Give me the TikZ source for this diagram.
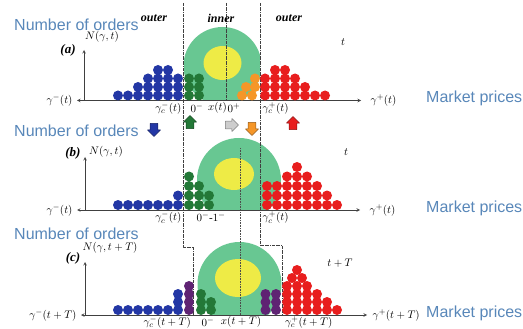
\documentclass[tikz,border=0pt]{standalone}
\usepackage{fontspec}
\setmainfont{Liberation Serif}
\newfontfamily\annofont{Liberation Sans}
\usetikzlibrary{shapes.arrows}
\definecolor{cblue}{RGB}{35,55,165}
\definecolor{cgreen}{RGB}{35,120,55}
\definecolor{cred}{RGB}{232,30,30}
\definecolor{corange}{RGB}{245,150,40}
\definecolor{cpurple}{RGB}{95,35,115}
\definecolor{cteal}{RGB}{104,199,146}
\definecolor{cyellow}{RGB}{238,235,70}
\definecolor{cgrey}{RGB}{205,205,205}
\definecolor{annoblue}{RGB}{88,135,185}
\begin{document}
\begin{tikzpicture}[x=1pt, y=-1pt, font=\fontsize{11}{13}\selectfont, line join=round, >=stealth,
    anno/.style={font=\annofont\fontsize{16}{18}\selectfont, text=annoblue, inner sep=0pt},
    band/.style={font=\bfseries\itshape\fontsize{12}{14}\selectfont},
    panel/.style={font=\bfseries\itshape\fontsize{13}{15}\selectfont},
    bound/.style={densely dash dot, line width=0.5pt, black!75},
    mid/.style={densely dotted, line width=0.6pt, black!70},
    axis/.style={line width=0.6pt, black!75},
    blockarr/.style={single arrow, draw=#1!60!black, fill=#1, minimum height=13pt, minimum width=13pt,
      single arrow head extend=2.5pt, inner sep=3.5pt, line width=0.5pt}]
  \useasboundingbox (0,0) rectangle (523,329);

  % order clouds
  \begin{scope}
    \clip (184,0) rectangle (260,100.5);
    \fill[cteal] (222.5,66) circle (39pt);
  \end{scope}
  \begin{scope}
    \clip (0,110) rectangle (523,210);
    \fill[cteal] (239,180) circle (42pt);
  \end{scope}
  \begin{scope}
    \clip (0,220) rectangle (523,315);
    \fill[cteal] (239.5,284) circle (42pt);
  \end{scope}
  \fill[cyellow] (222.5,63) ellipse [x radius=19pt, y radius=17pt];
  \fill[cyellow] (234,174) ellipse [x radius=20pt, y radius=16pt];
  \fill[cyellow] (238,278) ellipse [x radius=23pt, y radius=19pt];

  % boundaries
  \draw[bound] (183.5,3) -- (183.5,247) -- (193,247) -- (193,315);
  \draw[bound] (260,3) -- (260,245) -- (282,245) -- (282,315);
  \draw[bound] (226.5,3) -- (226.5,100.5);
  \draw[mid] (240,148) -- (240,315);

  % axes
  \coordinate (oa) at (84,100.5);  \coordinate (ya) at (84,50);
  \coordinate (la) at (77,100.5);  \coordinate (ra) at (361,100.5);
  \coordinate (ob) at (85,210);    \coordinate (yb) at (85,157);
  \coordinate (lb) at (77,210);    \coordinate (rb) at (360,210);
  \coordinate (oc) at (85,315);    \coordinate (yc) at (85,262);
  \coordinate (lc) at (81,315);    \coordinate (rc) at (367,315);
  \draw[axis,<->] (la) -- (ra);
  \draw[axis,->] (oa) -- (ya);
  \draw[axis,<->] (lb) -- (rb);
  \draw[axis,->] (ob) -- (yb);
  \draw[axis,<->] (lc) -- (rc);
  \draw[axis,->] (oc) -- (yc);

  % panel (a)
  \foreach \x in {118,128,...,178} \fill[cblue] (\x,95.5) circle (5pt);
  \foreach \x in {138,148,...,178} \fill[cblue] (\x,87) circle (5pt);
  \foreach \x in {148,158,...,178} \fill[cblue] (\x,78.5) circle (5pt);
  \foreach \x in {158,168} \fill[cblue] (\x,70) circle (5pt);
  \foreach \x/\y in {189/95.5,199/95.5,189/87,199/87,189/78.5,199/78.5} \fill[cgreen] (\x,\y) circle (5pt);
  \foreach \x/\y in {242/95.5,252/95.5,246/87,255/87,255/78.5} \fill[corange] (\x,\y) circle (5pt);
  \foreach \x in {265,275,...,325} \fill[cred] (\x,95.5) circle (5pt);
  \foreach \x in {265,275,...,305} \fill[cred] (\x,87) circle (5pt);
  \foreach \x in {265,275,...,295} \fill[cred] (\x,78.5) circle (5pt);
  \foreach \x in {275,285} \fill[cred] (\x,70) circle (5pt);

  % panel (b)
  \foreach \x in {118,128,...,178} \fill[cblue] (\x,205) circle (5pt);
  \fill[cblue] (178,195.5) circle (5pt);
  \foreach \x/\y in {189/205,199/205,209/205,189/195.5,199/195.5,209/195.5,189/186,199/186,189/176.5} \fill[cgreen] (\x,\y) circle (5pt);
  \foreach \x in {267,277,...,337} \fill[cred] (\x,205) circle (5pt);
  \foreach \x in {267,277,...,327} \fill[cred] (\x,195.5) circle (5pt);
  \foreach \x in {267,277,...,317} \fill[cred] (\x,186) circle (5pt);
  \foreach \x in {287,297,307} \fill[cred] (\x,176.5) circle (5pt);
  \fill[cred] (297,167) circle (5pt);

  % panel (c)
  \foreach \x in {118,128,...,178} \fill[cblue] (\x,310) circle (5pt);
  \foreach \y in {302,294} \fill[cblue] (178,\y) circle (5pt);
  \foreach \y in {310,302,294,286} \fill[cpurple] (189,\y) circle (5pt);
  \foreach \x/\y in {201/310,211/310,201/302,211/302,201/294} \fill[cgreen] (\x,\y) circle (5pt);
  \foreach \x/\y in {265.5/310,276/310,265.5/302,276/302,265.5/294,276/294} \fill[cpurple] (\x,\y) circle (5pt);
  \foreach \x in {287,297,...,337} \fill[cred] (\x,310) circle (5pt);
  \foreach \x in {287,297,...,327} \fill[cred] (\x,302) circle (5pt);
  \foreach \x in {287,297,...,317} \fill[cred] (\x,294) circle (5pt);
  \foreach \x in {287,297,307} \fill[cred] (\x,286) circle (5pt);
  \foreach \x in {292,302} \fill[cred] (\x,278) circle (5pt);
  \fill[cred] (297,270) circle (5pt);

  % labels (a)
  \node[band] (outl) at (154,18) {outer};
  \node[band] (innr) at (221,18) {inner};
  \node[band] (outr) at (289,18) {outer};
  \node[anno, anchor=west] (noa) at (14,25) {Number of orders};
  \node[anno, anchor=west] (mpa) at (426,98) {Market prices};
  \node[panel] (pa) at (68,50) {(a)};
  \node (na) at (102,37) {$N(\gamma,t)$};
  \node (ta) at (343,42) {$t$};
  \node[left=1pt] (gma) at (la) {$\gamma^-(t)$};
  \node[right=6pt] (gpa) at (ra) {$\gamma^+(t)$};
  \node[anchor=east, inner sep=1pt] (gcma) at (182.5,108) {$\gamma_c^-(t)$};
  \node[inner sep=1pt] (zma) at (197,108) {$0^-$};
  \node[inner sep=1pt] (xa) at (217.5,108) {$x(t)$};
  \node[inner sep=1pt] (zpa) at (234,108) {$0^+$};
  \node[anchor=west, inner sep=1pt] (gcpa) at (261.5,108) {$\gamma_c^+(t)$};

  % shifts
  \node[blockarr=cblue, shape border rotate=270] (abl) at (154,128) {};
  \node[blockarr=cgreen, shape border rotate=90] (agr) at (190,124) {};
  \node[blockarr=cgrey, shape border rotate=0] (agy) at (230,125) {};
  \node[blockarr=corange, shape border rotate=270] (aor) at (252,127) {};
  \node[blockarr=cred, shape border rotate=90] (ard) at (293,125) {};

  % labels (b)
  \node[anno, anchor=west] (nob) at (14,131) {Number of orders};
  \node[anno, anchor=west] (mpb) at (426,208) {Market prices};
  \node[panel] (pb) at (73,153) {(b)};
  \node (nb) at (106,152) {$N(\gamma,t)$};
  \node (tb) at (346,152) {$t$};
  \node[left=1pt] (gmb) at (lb) {$\gamma^-(t)$};
  \node[right=6pt] (gpb) at (rb) {$\gamma^+(t)$};
  \node[anchor=east, inner sep=1pt] (gcmb) at (182.5,217.5) {$\gamma_c^-(t)$};
  \node[inner sep=1pt] (zzb) at (211,217.5) {$0^-$-$1^-$};
  \node[anchor=west, inner sep=1pt] (gcpb) at (261.5,217.5) {$\gamma_c^+(t)$};

  % labels (c)
  \node[anno, anchor=west] (noc) at (14,234) {Number of orders};
  \node[anno, anchor=west] (mpc) at (426,313) {Market prices};
  \node[panel] (pc) at (73,258) {(c)};
  \node (nc) at (110,248) {$N(\gamma,t+T)$};
  \node (tc) at (340,263) {$t+T$};
  \node[left=1pt] (gmc) at (lc) {$\gamma^-(t+T)$};
  \node[right=2pt] (gpc) at (rc) {$\gamma^+(t+T)$};
  \node[anchor=east, inner sep=1pt] (gcmc) at (192,322) {$\gamma_c^-(t+T)$};
  \node[inner sep=1pt] (zmc) at (208,322) {$0^-$};
  \node[inner sep=1pt] (xc) at (241,322) {$x(t+T)$};
  \node[anchor=west, inner sep=1pt] (gcpc) at (284,322) {$\gamma_c^+(t+T)$};
\end{tikzpicture}
\end{document}
